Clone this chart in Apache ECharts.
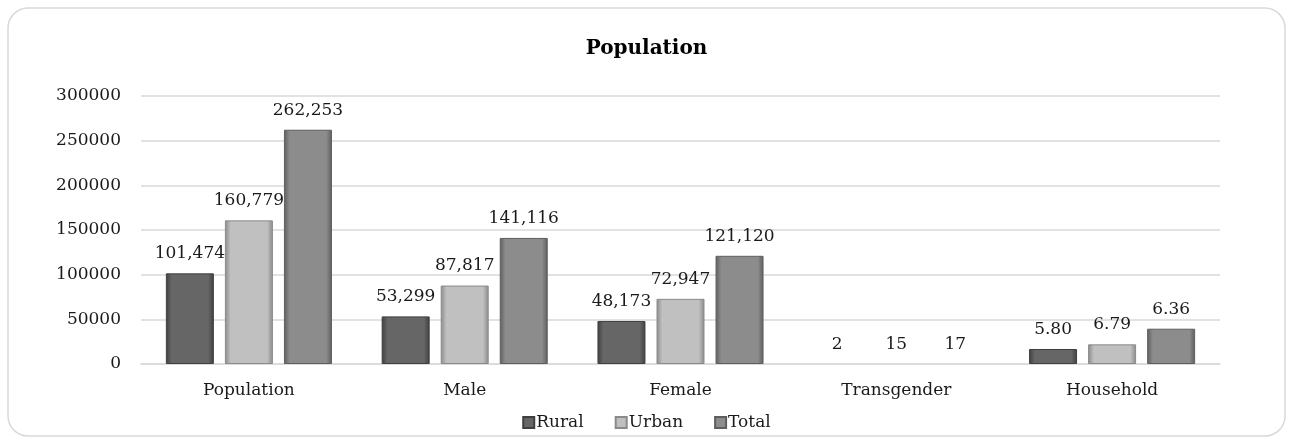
<!DOCTYPE html>
<html>
<head>
<meta charset="utf-8">
<script src="https://cdn.jsdelivr.net/npm/echarts@6/dist/echarts.min.js"></script>
<style>
  html, body { margin: 0; padding: 0; background: #fff; }
  #main { width: 1293px; height: 441px; }
</style>
</head>
<body>
<div id="main"></div>
<script>
var categories = ['Population', 'Male', 'Female', 'Transgender', 'Household'];
var rural = [101474, 53299, 48173, 2, 16800];
var urban = [160779, 87817, 72947, 15, 22000];
var total = [262253, 141116, 121120, 17, 39500];
// household bars carry the average household size as their label
var householdLabels = { Rural: '5.80', Urban: '6.79', Total: '6.36' };

var font = 'DejaVu Serif';

function bevel(c, edge) {
    return {
        type: 'linear', x: 0, y: 0, x2: 1, y2: 0,
        colorStops: [
            { offset: 0, color: edge },
            { offset: 0.12, color: c },
            { offset: 0.88, color: c },
            { offset: 1, color: edge }
        ]
    };
}

function labelFmt(name) {
    return function (p) {
        if (p.dataIndex === 4) return householdLabels[name];
        return p.value.toLocaleString('en-US');
    };
}

function makeSeries(name, data, c, edge) {
    return {
        name: name,
        type: 'bar',
        // tiny transgender bars get no outline so they stay invisible
        data: data.map(function (v, i) {
            return i === 3 ? { value: v, itemStyle: { borderWidth: 0 } } : v;
        }),
        barWidth: 48,
        barGap: '23%',
        itemStyle: { color: bevel(c, edge), borderColor: edge, borderWidth: 1 },
        label: {
            show: true,
            position: 'top',
            distance: 11,
            fontFamily: font,
            fontSize: 17,
            color: '#1a1a1a',
            formatter: labelFmt(name)
        }
    };
}

var myChart = echarts.init(document.getElementById('main'));

var option = {
    animation: false,
    title: {
        text: 'Population',
        left: 'center',
        top: 34,
        textStyle: { fontFamily: font, fontSize: 20, fontWeight: 'bold', color: '#000' }
    },
    graphic: [{
        type: 'rect',
        shape: { x: 8, y: 8, width: 1277, height: 428, r: 20 },
        style: { fill: 'none', stroke: '#d9d9d9', lineWidth: 1.5 },
        silent: true
    }],
    legend: {
        bottom: 5,
        left: 'center',
        icon: 'rect',
        itemWidth: 11,
        itemHeight: 11,
        itemGap: 31,
        textStyle: { fontFamily: font, fontSize: 17, color: '#1a1a1a', padding: [0, 0, 0, -3] },
        data: ['Rural', 'Urban', 'Total']
    },
    grid: { left: 141, right: 73, top: 96, bottom: 77 },
    xAxis: {
        type: 'category',
        data: categories,
        axisLine: { lineStyle: { color: '#d9d9d9', width: 1.5 } },
        axisTick: { show: false },
        axisLabel: { fontFamily: font, fontSize: 17, color: '#1a1a1a', margin: 18 }
    },
    yAxis: {
        type: 'value',
        min: 0,
        max: 300000,
        interval: 50000,
        axisLine: { show: false },
        axisTick: { show: false },
        splitLine: { lineStyle: { color: '#d9d9d9', width: 1.5 } },
        axisLabel: {
            fontFamily: font, fontSize: 17, color: '#1a1a1a', margin: 20,
            formatter: function (v) { return String(v); }
        }
    },
    series: [
        makeSeries('Rural', rural, '#666666', '#3f3f3f'),
        makeSeries('Urban', urban, '#c0c0c0', '#8a8a8a'),
        makeSeries('Total', total, '#8c8c8c', '#5e5e5e')
    ]
};

myChart.setOption(option);
</script>
</body>
</html>
